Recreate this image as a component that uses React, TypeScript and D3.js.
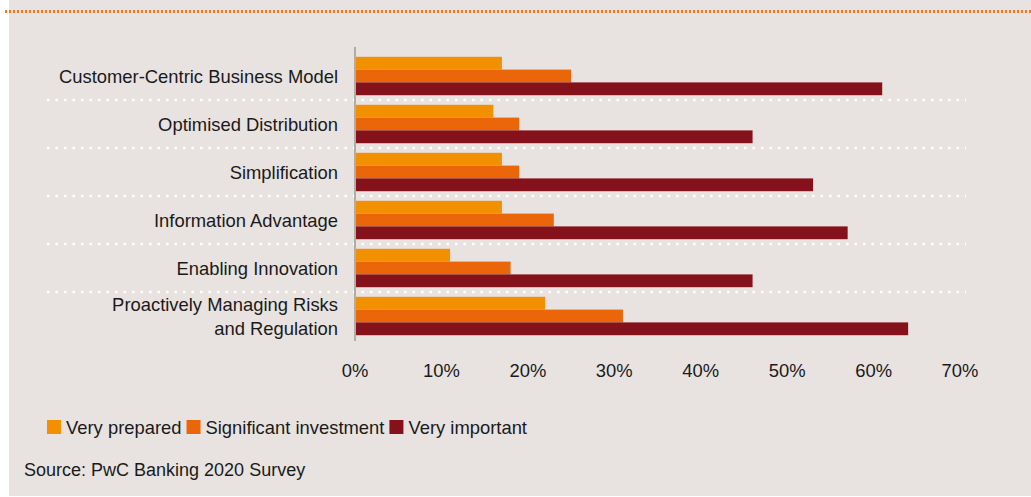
import React from "react";
import { scaleLinear, scaleBand } from "d3";

const categories = [
  ["Customer-Centric Business Model"],
  ["Optimised Distribution"],
  ["Simplification"],
  ["Information Advantage"],
  ["Enabling Innovation"],
  ["Proactively Managing Risks", "and Regulation"],
];
const seriesNames = ["Very prepared", "Significant investment", "Very important"];
const veryPrepared = [17, 16, 17, 17, 11, 22];
const significantInvestment = [25, 19, 19, 23, 18, 31];
const veryImportant = [61, 46, 53, 57, 46, 64];
const xTicks = [0, 10, 20, 30, 40, 50, 60, 70];

const colors = ["#f39000", "#eb6608", "#85111a"];
const W = 1031;
const H = 497;
const FONT = "'Liberation Sans', Arial, Helvetica, sans-serif";
const FS = 18.4;

// text width helper for laying out the legend
const measure = (s: string, size: number) => {
  const ctx = document.createElement("canvas").getContext("2d");
  if (!ctx) return s.length * size * 0.5;
  ctx.font = `${size}px ${FONT}`;
  return ctx.measureText(s).width;
};

export default function App() {
  const series = [veryPrepared, significantInvestment, veryImportant];
  const x = scaleLinear().domain([0, 70]).range([355, 960]);
  const y = scaleBand<number>()
    .domain(categories.map((_, i) => i))
    .range([52, 340])
    .paddingInner(0.2)
    .paddingOuter(0.1);
  const inner = scaleBand<number>().domain([0, 1, 2]).range([0, y.bandwidth()]);

  let lx = 47;
  const legend = seriesNames.map((n, i) => {
    const gx = lx;
    lx += 14 + 5 + measure(n, FS) + 5;
    return { n, gx, c: colors[i] };
  });

  return (
    <svg
      width={W}
      height={H}
      style={{ position: "absolute", left: 0, top: 0, fontFamily: FONT }}
    >
      <rect x={9} y={0} width={W - 9} height={H - 1} fill="#e8e3e0" />
      <line
        x1={5}
        x2={W}
        y1={11.5}
        y2={11.5}
        stroke="#ec7a22"
        strokeWidth={3}
        strokeDasharray="2,2"
      />

      {/* separators between groups */}
      {categories.slice(0, -1).map((_, i) => {
        const yy = (y(i)! + y.bandwidth() + y(i + 1)!) / 2;
        return (
          <line
            key={i}
            x1={47}
            x2={966}
            y1={yy}
            y2={yy}
            stroke="#ffffff"
            strokeWidth={2.5}
            strokeDasharray="2.5,6"
          />
        );
      })}

      {/* bars */}
      {series.map((vals, s) =>
        vals.map((v, i) => (
          <rect
            key={`${s}-${i}`}
            x={x(0)}
            y={y(i)! + inner(s)!}
            width={x(v) - x(0)}
            height={inner.bandwidth()}
            fill={colors[s]}
          />
        ))
      )}

      {/* axis line */}
      <line x1={x(0)} x2={x(0)} y1={47} y2={341} stroke="#b3aba6" strokeWidth={2} />

      {/* category labels */}
      {categories.map((lines, i) => {
        const cy = y(i)! + y.bandwidth() / 2;
        return (
          <text key={i} x={338} textAnchor="end" fontSize={FS} fill="#1a1a1a">
            {lines.map((l, j) => (
              <tspan
                key={j}
                x={338}
                y={cy + 6.5 + (j - (lines.length - 1) / 2) * 24}
              >
                {l}
              </tspan>
            ))}
          </text>
        );
      })}

      {/* x tick labels */}
      {xTicks.map((t) => (
        <text key={t} x={x(t)} y={377} textAnchor="middle" fontSize={FS} fill="#1a1a1a">
          {t}%
        </text>
      ))}

      {/* legend */}
      {legend.map(({ n, gx, c }) => (
        <g key={n}>
          <rect x={gx} y={420} width={14} height={14} fill={c} />
          <text x={gx + 19} y={433.5} fontSize={FS} fill="#1a1a1a">
            {n}
          </text>
        </g>
      ))}

      <text x={24} y={476} fontSize={FS - 0.4} fill="#1a1a1a">
        Source: PwC Banking 2020 Survey
      </text>
    </svg>
  );
}
